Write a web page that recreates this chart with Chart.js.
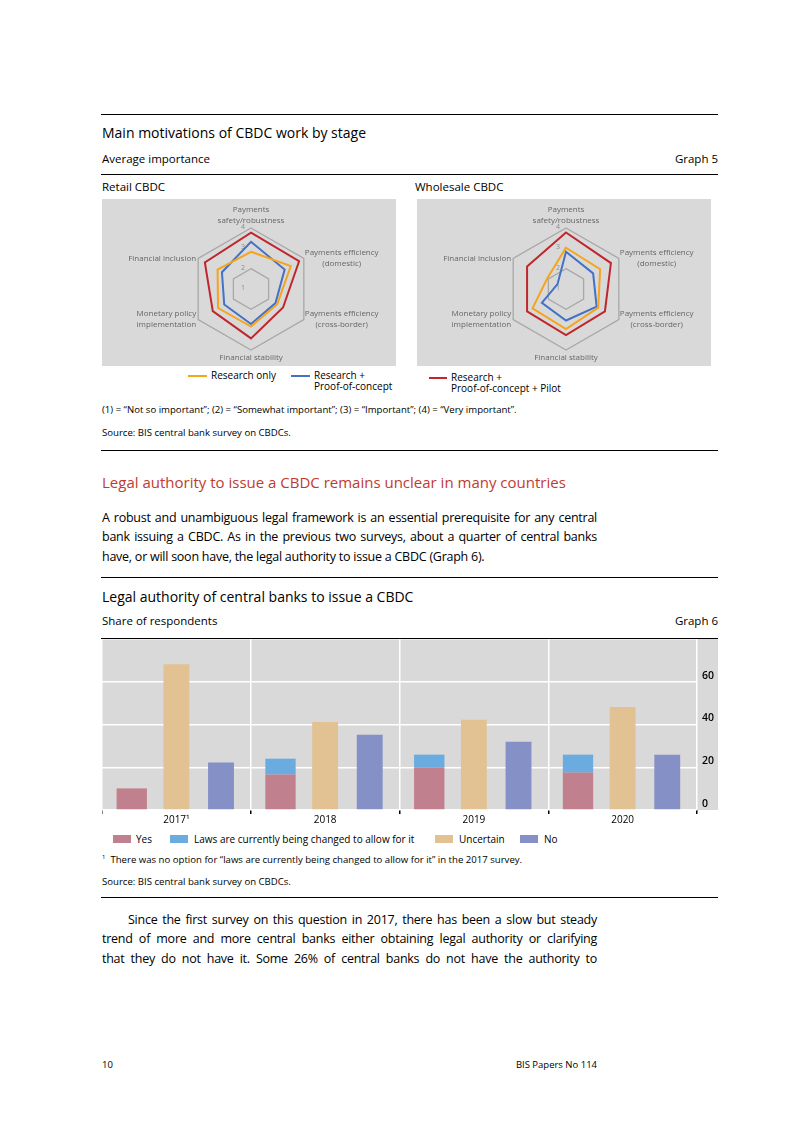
<!DOCTYPE html>
<html>
<head>
<meta charset="utf-8">
<script src="https://cdn.jsdelivr.net/npm/chart.js@4.4.0/dist/chart.umd.min.js"></script>
<style>
body{margin:0;background:#fff;font-family:"Open Sans",sans-serif;color:#000}
.t{position:absolute;white-space:nowrap;line-height:1}
.rule{position:absolute;left:101px;width:617px;height:1px;background:#000}
.ttl{font-size:14px}
.sub{font-size:11.5px}
.sm{font-size:9.6px}
.lg{font-size:10px;line-height:11px}
.key{position:absolute;height:2px}
.sw{position:absolute;width:18px;height:8px}
.body{position:absolute;left:102px;width:495px;font-size:12.5px;line-height:19.3px;letter-spacing:-0.25px}
.body div{white-space:nowrap;text-align:justify;text-align-last:justify}
.body div.last{text-align-last:left}
canvas{position:absolute}
</style>
</head>
<body>
<div class="rule" style="top:114px"></div>
<div class="t ttl" style="left:102px;top:126px">Main motivations of CBDC work by stage</div>
<div class="t sub" style="left:102px;top:153px">Average importance</div>
<div class="t sub" style="right:75px;top:153px">Graph 5</div>
<div class="rule" style="top:174px"></div>
<div class="t sub" style="left:102px;top:181px">Retail CBDC</div>
<div class="t sub" style="left:415px;top:181px">Wholesale CBDC</div>

<canvas id="retail" width="294" height="167" style="left:102px;top:199px;background:#d9d9d9"></canvas>
<canvas id="wholesale" width="294" height="167" style="left:417px;top:199px;background:#d9d9d9"></canvas>

<div class="key" style="left:188px;top:375px;width:19px;background:#f5a41e"></div>
<div class="t lg" style="left:211px;top:370px">Research only</div>
<div class="key" style="left:291px;top:375px;width:19px;background:#4472c4"></div>
<div class="t lg" style="left:314px;top:370px">Research +<br>Proof-of-concept</div>
<div class="key" style="left:429px;top:377px;width:18px;background:#c0272d"></div>
<div class="t lg" style="left:451px;top:372px">Research +<br>Proof-of-concept + Pilot</div>

<div class="t sm" style="left:102px;top:405px">(1) = “Not so important”; (2) = “Somewhat important”; (3) = “Important”; (4) = “Very important”.</div>
<div class="t sm" style="left:102px;top:428px">Source: BIS central bank survey on CBDCs.</div>
<div class="rule" style="top:450px"></div>

<div class="t" style="left:102px;top:475px;font-size:15px;color:#c23a2f">Legal authority to issue a CBDC remains unclear in many countries</div>
<div class="body" style="top:508px">
<div>A robust and unambiguous legal framework is an essential prerequisite for any central</div>
<div>bank issuing a CBDC. As in the previous two surveys, about a quarter of central banks</div>
<div class="last">have, or will soon have, the legal authority to issue a CBDC (Graph 6).</div>
</div>

<div class="rule" style="top:577px"></div>
<div class="t ttl" style="left:102px;top:590px">Legal authority of central banks to issue a CBDC</div>
<div class="t sub" style="left:102px;top:615px">Share of respondents</div>
<div class="t sub" style="right:75px;top:615px">Graph 6</div>
<div class="rule" style="top:638px"></div>

<canvas id="legal" width="616" height="187" style="left:102px;top:639px"></canvas>

<div class="sw" style="left:113px;top:835px;background:#c1808d"></div>
<div class="t" style="left:136px;top:834px;font-size:10px">Yes</div>
<div class="sw" style="left:170px;top:835px;background:#6aace0"></div>
<div class="t" style="left:194px;top:834px;font-size:10px">Laws are currently being changed to allow for it</div>
<div class="sw" style="left:435px;top:835px;background:#e2c292"></div>
<div class="t" style="left:459px;top:834px;font-size:10px">Uncertain</div>
<div class="sw" style="left:520px;top:835px;background:#8490c6"></div>
<div class="t" style="left:544px;top:834px;font-size:10px">No</div>

<div class="t sm" style="left:102px;top:854px"><sup style="font-size:6px">1</sup>&nbsp;&nbsp;There was no option for “laws are currently being changed to allow for it” in the 2017 survey.</div>
<div class="t sm" style="left:102px;top:877px">Source: BIS central bank survey on CBDCs.</div>
<div class="rule" style="top:897px"></div>

<div class="body" style="top:910px">
<div style="padding-left:26px">Since the first survey on this question in 2017, there has been a slow but steady</div>
<div>trend of more and more central banks either obtaining legal authority or clarifying</div>
<div>that they do not have it. Some 26% of central banks do not have the authority to</div>
</div>

<div class="t sm" style="left:102px;top:1060px;font-size:9.5px">10</div>
<div class="t sm" style="right:196px;top:1060px;font-size:9.5px">BIS Papers No 114</div>

<script>
// Graph 5 - radar
var axes = [['Payments', 'safety/robustness'], ['Payments efficiency', '(domestic)'], ['Payments efficiency', '(cross-border)'], ['Financial stability'], ['Monetary policy', 'implementation'], ['Financial inclusion']];
var ringTicks = [1, 2, 3, 4];
var retailResearch = [2.83, 3.26, 2.49, 2.85, 2.87, 2.9];
var retailPoc = [3.32, 2.91, 2.39, 2.72, 2.52, 2.65];
var retailPilot = [3.77, 3.73, 2.82, 3.43, 3.17, 3.62];
var wholesaleResearch = [3.03, 2.94, 2.83, 2.97, 2.9, 2.06];
var wholesalePoc = [2.83, 2.54, 2.74, 2.55, 2.37, 1.48];
var wholesalePilot = [3.78, 3.55, 3.21, 3.27, 3.21, 3.21];

// Graph 6 - bars
var years = ['2017¹', '2018', '2019', '2020'];
var yes = [10.1, 16.6, 19.7, 17.5];
var laws = [null, 7.4, 6.2, 8.4];
var uncertain = [68.2, 41.2, 42.2, 48.2];
var no = [22.2, 35.2, 31.9, 25.9];
var yTicks = [0, 20, 40, 60];

// ring numbers left of the top spoke
var ringLabels = {
  id: 'ringLabels',
  beforeDatasetsDraw: function(chart) {
    var s = chart.scales.r, ctx = chart.ctx;
    ctx.save();
    ctx.font = '7px "Open Sans"';
    ctx.fillStyle = '#8c8c8c';
    ctx.textAlign = 'center';
    ctx.textBaseline = 'middle';
    ringTicks.forEach(function(v) {
      var p = s.getPointPositionForValue(0, v);
      ctx.fillText(String(v), p.x - 8, p.y - 1);
    });
    ctx.restore();
  }
};

// axis names, placed like the excel ones (beside the outer corners)
var axisNames = {
  id: 'axisNames',
  afterDraw: function(chart) {
    var s = chart.scales.r, ctx = chart.ctx, lh = 11;
    ctx.save();
    ctx.font = '8px "Open Sans"';
    ctx.fillStyle = '#666666';
    ctx.textAlign = 'center';
    ctx.textBaseline = 'middle';
    axes.forEach(function(lines, i) {
      var p = s.getPointPosition(i, s.drawingArea);
      var w = Math.max.apply(null, lines.map(function(l) { return ctx.measureText(l).width; }));
      var n = lines.length, x = p.x, y0;
      if (i === 0) { y0 = p.y - 7 - (n - 1) * lh; }
      else if (i === 3) { y0 = p.y + 8; }
      else {
        y0 = p.y - (n - 1) * lh / 2;
        x = i < 3 ? p.x + 1 + w / 2 : p.x - 2 - w / 2;
      }
      lines.forEach(function(l, k) { ctx.fillText(l, x, y0 + k * lh); });
    });
    ctx.restore();
  }
};

function radar(id, a, b, c) {
  new Chart(document.getElementById(id), {
    type: 'radar',
    data: {
      labels: axes,
      datasets: [
        {label: 'Research only', data: a, borderColor: '#f5a41e'},
        {label: 'Research + Proof-of-concept', data: b, borderColor: '#4472c4'},
        {label: 'Research + Proof-of-concept + Pilot', data: c, borderColor: '#c0272d'}
      ]
    },
    options: {
      responsive: false,
      animation: false,
      layout: {padding: {top: 29, bottom: 16, left: 5, right: 0}},
      plugins: {legend: {display: false}, tooltip: {enabled: false}},
      elements: {point: {radius: 0}, line: {borderWidth: 2, tension: 0, fill: false}},
      scales: {
        r: {
          min: 1, max: 4,
          ticks: {stepSize: 1, display: false},
          angleLines: {display: false},
          grid: {
            lineWidth: 1.3,
            color: function(c) { return c.tick && c.tick.value === 3 ? 'rgba(0,0,0,0)' : '#a8a8a8'; }
          },
          pointLabels: {display: false}
        }
      }
    },
    plugins: [ringLabels, axisNames]
  });
}
radar('retail', retailResearch, retailPoc, retailPilot);
radar('wholesale', wholesaleResearch, wholesalePoc, wholesalePilot);

var plotBg = {
  id: 'plotBg',
  beforeDraw: function(chart) {
    var ctx = chart.ctx;
    ctx.save();
    ctx.fillStyle = '#d9d9d9';
    ctx.fillRect(0, 0, chart.width, chart.chartArea.bottom);
    ctx.restore();
  }
};

new Chart(document.getElementById('legal'), {
  type: 'bar',
  data: {
    labels: years,
    datasets: [
      {label: 'Yes', data: yes, backgroundColor: '#c1808d', stack: 'a', barPercentage: 0.68},
      {label: 'Laws are currently being changed to allow for it', data: laws, backgroundColor: '#6aace0', stack: 'a', barPercentage: 0.68},
      {label: 'Uncertain', data: uncertain, backgroundColor: '#e2c292', stack: 'b', barPercentage: 0.58},
      {label: 'No', data: no, backgroundColor: '#8490c6', stack: 'c', barPercentage: 0.58}
    ]
  },
  options: {
    responsive: false,
    animation: false,
    layout: {padding: 0},
    datasets: {bar: {categoryPercentage: 0.9}},
    plugins: {tooltip: {enabled: false}, legend: {display: false}},
    scales: {
      x: {
        stacked: true,
        border: {display: false},
        grid: {offset: true, color: '#ffffff', lineWidth: 1.5, tickColor: '#000', tickLength: 4},
        ticks: {color: '#000', font: {size: 10, family: 'Open Sans'}, padding: 0}
      },
      y: {
        stacked: true,
        position: 'right',
        min: 0, max: 80,
        border: {display: false},
        grid: {color: '#ffffff', lineWidth: 1.5, drawTicks: false},
        ticks: {
          stepSize: 20, padding: 5, labelOffset: -6, color: '#000',
          font: {size: 10.5, family: 'Open Sans', weight: '600'},
          callback: function(v) { return yTicks.indexOf(v) >= 0 ? v : ''; }
        },
        afterFit: function(s) { s.width = 21; s.paddingTop = 0; s.paddingBottom = 0; }
      }
    }
  },
  plugins: [plotBg]
});
</script>
</body>
</html>
